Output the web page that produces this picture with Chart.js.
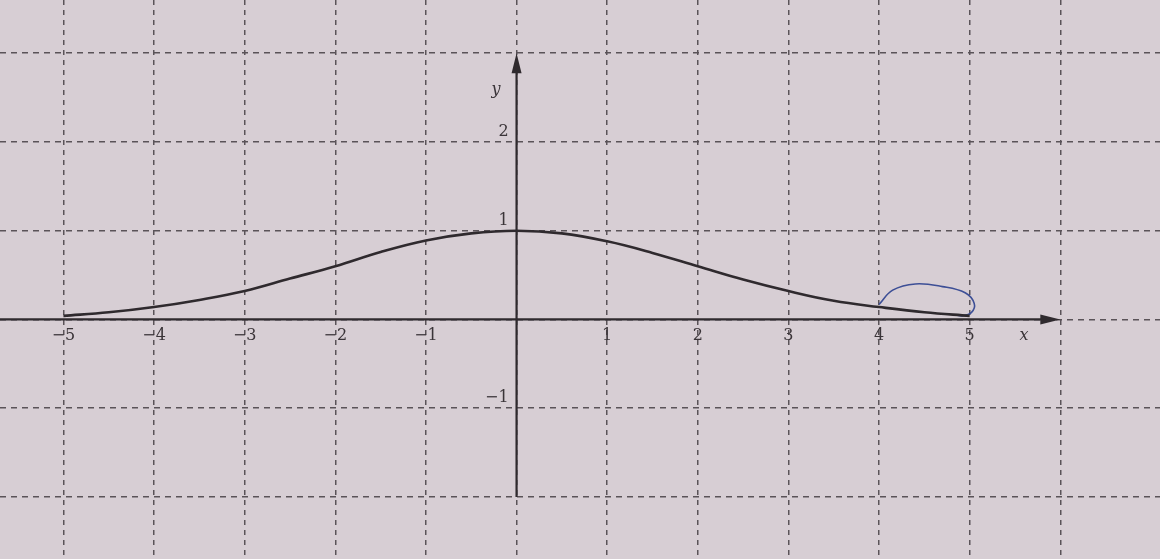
<!DOCTYPE html>
<html>
<head>
<meta charset="utf-8">
<script src="https://cdn.jsdelivr.net/npm/chart.js@4"></script>
<style>
  html, body { margin: 0; padding: 0; background: #d7ced4; }
  #wrap { width: 1160px; height: 559px; }
</style>
</head>
<body>
<div id="wrap"><canvas id="my-chart"></canvas></div>
<script>
// curve
const curveX = [-5, -4.5, -4, -3.5, -3, -2.5, -2, -1.5, -1, -0.5, 0, 0.5, 1, 1.5, 2, 2.5, 3, 3.5, 4, 4.5, 5];
const curveY = [0.04, 0.08, 0.14, 0.22, 0.32, 0.46, 0.6, 0.76, 0.89, 0.97, 1, 0.97, 0.88, 0.75, 0.6, 0.45, 0.32, 0.21, 0.14, 0.08, 0.04];

// blue pen mark between x=4 and x=5
const penX = [4.0, 4.15, 4.4, 4.7, 4.95, 5.05, 5.02, 4.92, 4.85];
const penY = [0.17, 0.33, 0.4, 0.37, 0.3, 0.18, 0.08, 0.04, 0.05];

const xTickLabels = [-5, -4, -3, -2, -1, 1, 2, 3, 4, 5];
const yTickLabels = [2, 1, -1];
const gridX = [-5, -4, -3, -2, -1, 0, 1, 2, 3, 4, 5, 6];
const gridY = [-2, -1, 0, 1, 2, 3];

const ink = '#2f2a2e';
const toPoints = (xs, ys) => xs.map((x, i) => ({ x: x, y: ys[i] }));

const axesPlugin = {
  id: 'axes',
  beforeDatasetsDraw(chart) {
    const ctx = chart.ctx;
    const sx = chart.scales.x, sy = chart.scales.y;
    const x0 = sx.getPixelForValue(0), y0 = sy.getPixelForValue(0);
    ctx.save();
    ctx.strokeStyle = ink;
    ctx.fillStyle = ink;
    ctx.lineWidth = 2.2;

    // x axis
    const xEnd = sx.getPixelForValue(6);
    ctx.beginPath();
    ctx.moveTo(sx.left, y0);
    ctx.lineTo(xEnd - 10, y0);
    ctx.stroke();
    ctx.beginPath();
    ctx.moveTo(xEnd, y0);
    ctx.lineTo(xEnd - 20, y0 - 5);
    ctx.lineTo(xEnd - 20, y0 + 5);
    ctx.closePath();
    ctx.fill();

    // y axis
    const yTop = sy.getPixelForValue(3);
    ctx.beginPath();
    ctx.moveTo(x0, sy.getPixelForValue(-2));
    ctx.lineTo(x0, yTop + 10);
    ctx.stroke();
    ctx.beginPath();
    ctx.moveTo(x0, yTop);
    ctx.lineTo(x0 - 5, yTop + 20);
    ctx.lineTo(x0 + 5, yTop + 20);
    ctx.closePath();
    ctx.fill();

    // labels
    ctx.font = '16px "DejaVu Serif", "Liberation Serif", serif';
    ctx.fillStyle = '#3a3438';
    ctx.textAlign = 'center';
    ctx.textBaseline = 'top';
    xTickLabels.forEach(v => {
      const t = v < 0 ? '\u2212' + Math.abs(v) : String(v);
      ctx.fillText(t, sx.getPixelForValue(v), y0 + 8);
    });
    ctx.font = 'italic 16px "DejaVu Serif", "Liberation Serif", serif';
    ctx.fillText('x', sx.getPixelForValue(5.6), y0 + 8);

    ctx.font = '16px "DejaVu Serif", "Liberation Serif", serif';
    ctx.textAlign = 'right';
    ctx.textBaseline = 'bottom';
    yTickLabels.forEach(v => {
      const t = v < 0 ? '\u2212' + Math.abs(v) : String(v);
      ctx.fillText(t, x0 - 8, sy.getPixelForValue(v) - 2);
    });
    ctx.font = 'italic 16px "DejaVu Serif", "Liberation Serif", serif';
    ctx.fillText('y', x0 - 16, sy.getPixelForValue(2.5));
    ctx.restore();
  }
};

const ctx = document.getElementById('my-chart').getContext('2d');
const chart = new Chart(ctx, {
  type: 'scatter',
  data: {
    datasets: [
      {
        label: 'curve',
        data: toPoints(curveX, curveY),
        showLine: true,
        borderColor: ink,
        borderWidth: 2.6,
        pointRadius: 0,
        tension: 0.4
      },
      {
        label: 'pen',
        data: toPoints(penX, penY),
        showLine: true,
        borderColor: '#3d4f96',
        borderWidth: 1.6,
        pointRadius: 0,
        tension: 0.4
      }
    ]
  },
  options: {
    responsive: true,
    maintainAspectRatio: false,
    animation: false,
    layout: { padding: 0 },
    plugins: { legend: { display: false }, tooltip: { enabled: false } },
    scales: {
      x: {
        type: 'linear',
        min: -5.7,
        max: 7.1,
        afterBuildTicks: s => { s.ticks = gridX.map(v => ({ value: v })); },
        ticks: { display: false },
        grid: { color: '#5a5358', lineWidth: 1.5, drawTicks: false },
        border: { display: false, dash: [5, 5] }
      },
      y: {
        type: 'linear',
        min: -2.7,
        max: 3.6,
        afterBuildTicks: s => { s.ticks = gridY.map(v => ({ value: v })); },
        ticks: { display: false },
        grid: { color: '#5a5358', lineWidth: 1.5, drawTicks: false },
        border: { display: false, dash: [6, 5] }
      }
    }
  },
  plugins: [axesPlugin]
});
</script>
</body>
</html>
